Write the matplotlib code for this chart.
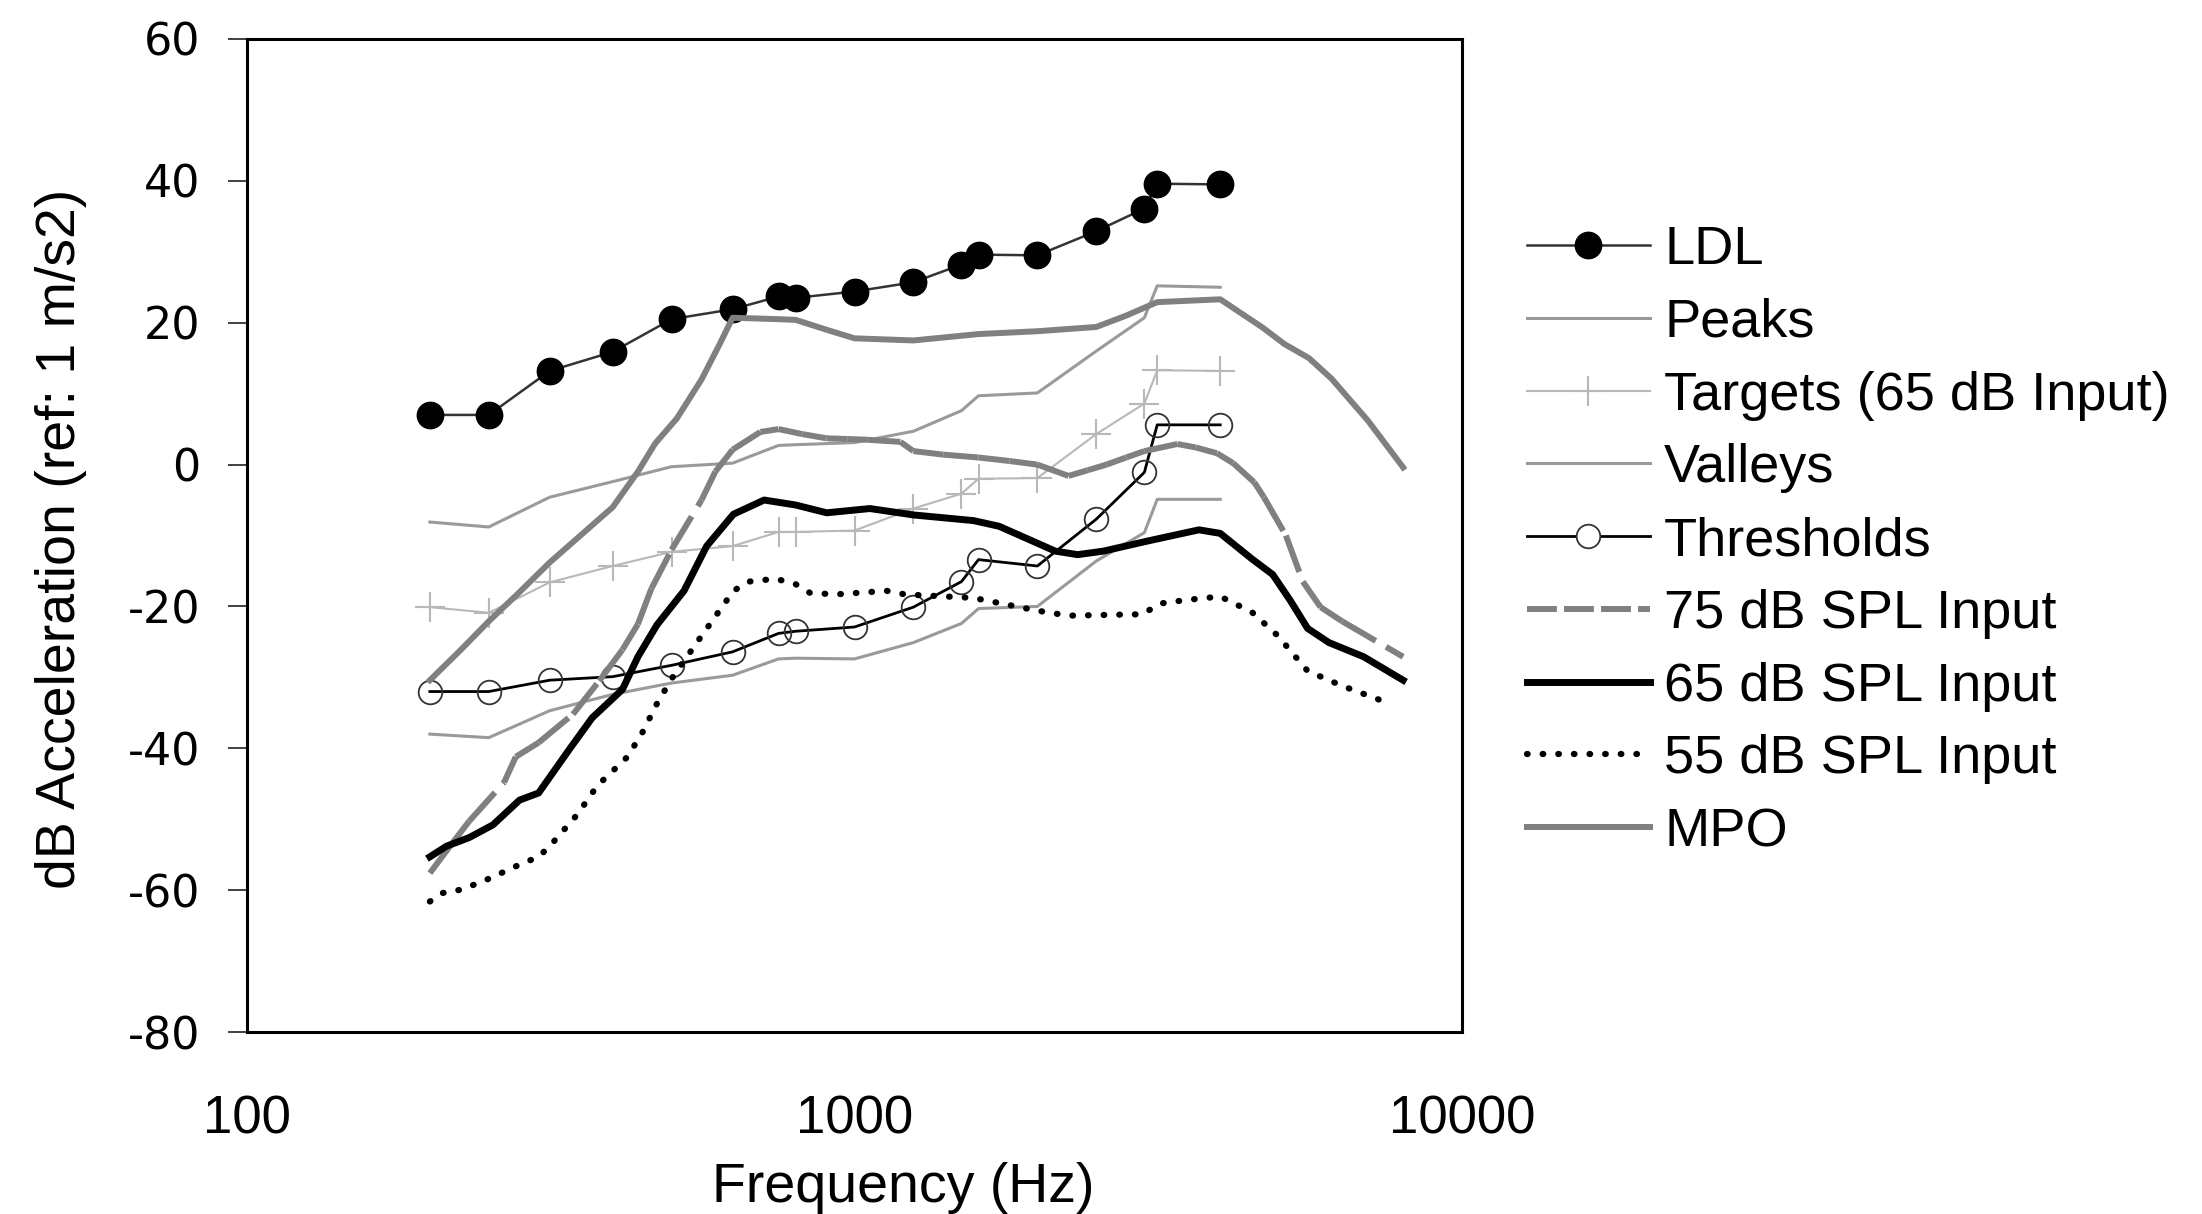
import matplotlib
matplotlib.use("Agg")
import matplotlib.pyplot as plt
from matplotlib.lines import Line2D

plt.rcParams['font.family'] = ['Liberation Sans', 'DejaVu Sans']
plt.rcParams['axes.unicode_minus'] = False

# audiometric frequencies (Hz)
freq_pts = [200, 250, 315, 400, 500, 630, 750, 800, 1000, 1250, 1500, 1600,
            2000, 2500, 3000, 3150, 4000]

ldl = [7.0, 7.0, 13.2, 15.9, 20.5, 21.9, 23.7, 23.5, 24.4, 25.7, 28.2, 29.6,
       29.5, 32.9, 36.1, 39.6, 39.5]
peaks = [-8.1, -8.8, -4.6, -2.4, -0.3, 0.2, 2.7, 2.8, 3.1, 4.7, 7.6, 9.7,
         10.1, 16.0, 20.7, 25.2, 25.0]
targets = [-20.1, -20.9, -16.6, -14.3, -12.3, -11.5, -9.5, -9.5, -9.3, -6.2,
           -4.1, -2.0, -1.9, 4.3, 8.6, 13.3, 13.2]
valleys = [-38.0, -38.5, -34.7, -32.4, -30.8, -29.7, -27.4, -27.3, -27.4,
           -25.1, -22.4, -20.3, -20.0, -13.6, -9.6, -4.9, -4.9]
thresholds = [-32.0, -32.0, -30.4, -29.9, -28.3, -26.4, -23.8, -23.5, -22.9,
              -20.1, -16.5, -13.4, -14.3, -7.7, -1.1, 5.6, 5.6]

# measured output curves
f75 = [200, 215, 232, 265, 277, 302, 344, 380, 415, 440, 463, 500, 560, 590,
       630, 700, 750, 820, 900, 975, 1050, 1190, 1250, 1400, 1600, 1800, 2000,
       2250, 2420, 2600, 2800, 3000, 3400, 3650, 3950, 4200, 4550, 4720, 5130,
       5470, 5850, 6350, 8000]
spl75 = [-57.6, -54.0, -50.3, -44.8, -41.2, -39.2, -35.2, -30.5, -26.1, -22.5,
         -17.5, -12.0, -5.0, -1.0, 2.1, 4.6, 5.0, 4.3, 3.7, 3.6, 3.5, 3.2, 1.9,
         1.4, 1.0, 0.5, 0.0, -1.6, -0.8, 0.0, 1.0, 1.9, 2.9, 2.4, 1.6, 0.2,
         -2.5, -4.6, -10.0, -16.5, -20.1, -22.1, -27.1]

f65 = [200, 213, 232, 254, 281, 302, 339, 370, 415, 440, 473, 524, 571, 632,
       710, 800, 900, 1060, 1250, 1570, 1730, 2140, 2330, 2570, 3030, 3690,
       4000, 4510, 4880, 5210, 5570, 6040, 6890, 8000]
spl65 = [-55.3, -53.8, -52.6, -50.8, -47.3, -46.3, -40.2, -35.7, -31.7, -27.1,
         -22.6, -17.8, -11.5, -7.0, -5.0, -5.7, -6.8, -6.2, -7.1, -7.9, -8.7,
         -12.2, -12.7, -12.2, -10.8, -9.2, -9.7, -13.3, -15.5, -19.1, -23.1,
         -25.1, -27.1, -30.4]

f55 = [200, 210, 226, 250, 281, 302, 315, 350, 377, 423, 448, 473, 500, 547,
       588, 632, 670, 741, 798, 845, 933, 1130, 1210, 1570, 2000, 2250, 2980,
       3180, 3510, 4000, 4510, 4970, 5570, 6350, 7600]
spl55 = [-61.6, -60.4, -59.9, -58.4, -56.4, -55.3, -53.8, -49.3, -45.3, -41.2,
         -37.7, -33.7, -30.2, -25.4, -21.6, -17.8, -16.5, -16.1, -16.8, -18.1,
         -18.3, -17.8, -18.3, -18.8, -20.6, -21.3, -21.1, -19.6, -19.1, -18.6,
         -20.8, -24.1, -29.1, -31.2, -33.7]

f_mpo = [200, 225, 250, 280, 315, 400, 440, 470, 510, 560, 600, 630, 750, 800,
         900, 1000, 1250, 1600, 2000, 2500, 2800, 3150, 4000, 4700, 5100, 5600,
         6100, 7000, 8000]
mpo = [-30.4, -26.1, -22.1, -18.1, -13.8, -6.0, -1.0, 3.0, 6.5, 12.0, 17.0,
       20.7, 20.5, 20.4, 19.0, 17.8, 17.5, 18.4, 18.8, 19.4, 21.0, 22.9, 23.3,
       19.3, 17.0, 15.0, 12.1, 6.2, -0.4]

fig = plt.figure(figsize=(22.02, 12.14), dpi=100)
ax = fig.add_axes([247 / 2202, 1 - 1032 / 1214, 1215 / 2202, 993 / 1214])

ax.plot(freq_pts, ldl, '-', color='#333333', lw=1.8, marker='o', ms=19,
        mfc='black', mec='black', label='LDL')
ax.plot(freq_pts, peaks, '-', color='#9a9a9a', lw=2.2, label='Peaks')
ax.plot(freq_pts, targets, '-', color='#b8b8b8', lw=1.5, marker='+', ms=21,
        mew=1.5, label='Targets (65 dB Input)')
ax.plot(freq_pts, valleys, '-', color='#9a9a9a', lw=2.2, label='Valleys')
ax.plot(freq_pts, thresholds, '-', color='black', lw=2.0, marker='o', ms=17,
        mfc='none', mec='#333333', mew=1.3, label='Thresholds')

# dash pattern restarts at every data point, like the spreadsheet chart
dash75 = (0, (6.5, 2))
for i in range(len(f75) - 1):
    ax.plot(f75[i:i + 2], spl75[i:i + 2], color='#808080', lw=4.3,
            linestyle=dash75, solid_capstyle='butt')
h75 = Line2D([], [], color='#808080', lw=4.3, linestyle=(0, (5, 1.2)))

ax.plot(f65, spl65, color='black', lw=5, label='65 dB SPL Input')
ax.plot(f55, spl55, color='black', lw=4.5, linestyle=(0, (0.1, 2.4)),
        dash_capstyle='round', label='55 dB SPL Input')
ax.plot(f_mpo, mpo, color='#808080', lw=4.3, label='MPO')

ax.set_xscale('log')
ax.set_xlim(100, 10000)
ax.set_ylim(-80, 60)
ax.set_yticks(range(-80, 61, 20))
ax.set_xticks([100, 1000, 10000])
ax.set_xticklabels(['100', '1000', '10000'])
ax.minorticks_off()

for sp in ax.spines.values():
    sp.set_linewidth(2.2)
    sp.set_color('black')

ax.tick_params(axis='x', length=0, pad=45, labelsize=38)
ax.tick_params(axis='y', direction='out', length=13.5, width=1.3,
               color='#333333', pad=20, labelsize=32)
for lab in ax.get_yticklabels():
    lab.set_family('DejaVu Sans')

ax.set_xlabel('Frequency (Hz)', fontsize=40)
ax.xaxis.set_label_coords(0.540, -0.131)
ax.set_ylabel('dB Acceleration (ref: 1 m/s2)', fontsize=40)
ax.yaxis.set_label_coords(-0.132, 0.497)

handles, labels = ax.get_legend_handles_labels()
handles.insert(5, h75)
labels.insert(5, '75 dB SPL Input')
leg = fig.legend(handles, labels, loc='upper left',
                 bbox_to_anchor=(1527 / 2202, 1 - 225 / 1214),
                 frameon=False, fontsize=39, handlelength=2.27,
                 handletextpad=0.26, labelspacing=0.42, borderpad=0,
                 borderaxespad=0)
leg.legend_handles[4].set_markerfacecolor('white')

fig.savefig('out.png', dpi=100)
